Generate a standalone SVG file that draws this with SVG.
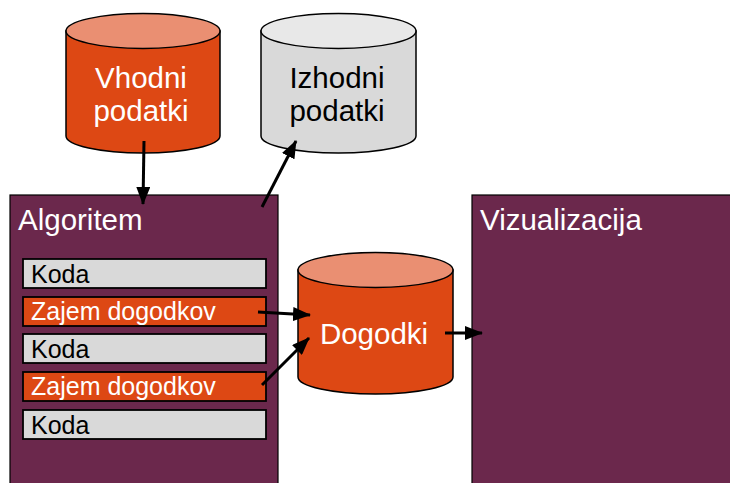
<svg xmlns="http://www.w3.org/2000/svg" width="730" height="483" viewBox="0 0 730 483">
<defs>
<style>
.big{font-family:"Liberation Sans",Arial,sans-serif;font-size:29.5px}
.small{font-family:"Liberation Sans",Arial,sans-serif;font-size:25px}
.w{fill:#ffffff}
.k{fill:#000000}
.panel{fill:#6B284C;stroke:#000;stroke-width:1.2}
.gray{fill:#D9D9D9;stroke:#000;stroke-width:1.8}
.orange{fill:#DD4814;stroke:#000;stroke-width:1.8}
.cylO{fill:#DD4814;stroke:#000;stroke-width:1.5}
.cylOt{fill:#EA8F72;stroke:#000;stroke-width:1.5}
.cylG{fill:#D9D9D9;stroke:#000;stroke-width:1.5}
.cylGt{fill:#E8E8E8;stroke:#000;stroke-width:1.5}
.edge{stroke:#000;stroke-width:3;fill:none;marker-end:url(#ah)}
</style>
<marker id="ah" viewBox="0 0 18 14" refX="17" refY="7" markerWidth="18" markerHeight="14" orient="auto" markerUnits="userSpaceOnUse">
<path d="M0,0 L18,7 L0,14 Z" fill="#000"/>
</marker>
</defs>
<rect width="730" height="483" fill="#fff"/>
<g id="vhodni">
<path class="cylO" d="M66,31 L66,136 A77,17 0 0 0 220,136 L220,31 Z"/>
<ellipse class="cylOt" cx="143" cy="31" rx="77" ry="17.5"/>
<text class="big w" x="141" y="88" text-anchor="middle">Vhodni</text>
<text class="big w" x="141" y="121" text-anchor="middle">podatki</text>
</g>
<g id="izhodni">
<path class="cylG" d="M261,31 L261,136 A77.5,17 0 0 0 416,136 L416,31 Z"/>
<ellipse class="cylGt" cx="338.5" cy="31" rx="77.5" ry="17.5"/>
<text class="big k" x="337" y="88" text-anchor="middle">Izhodni</text>
<text class="big k" x="337" y="121" text-anchor="middle">podatki</text>
</g>
<g id="algoritem">
<rect class="panel" x="10" y="195" width="268" height="300"/>
<text class="big w" x="18" y="230">Algoritem</text>
</g>
<g id="koda1">
<rect class="gray" x="23" y="259" width="243" height="29"/>
<text class="small k" x="31" y="282.5">Koda</text>
</g>
<g id="zajem1">
<rect class="orange" x="23" y="297" width="243" height="29"/>
<text class="small w" x="31" y="320">Zajem dogodkov</text>
</g>
<g id="koda2">
<rect class="gray" x="23" y="334" width="243" height="29"/>
<text class="small k" x="31" y="357.5">Koda</text>
</g>
<g id="zajem2">
<rect class="orange" x="23" y="372" width="243" height="29"/>
<text class="small w" x="31" y="395">Zajem dogodkov</text>
</g>
<g id="koda3">
<rect class="gray" x="23" y="410" width="243" height="29"/>
<text class="small k" x="31" y="433.5">Koda</text>
</g>
<g id="dogodki">
<path class="cylO" d="M298,270 L298,377 A77.5,17 0 0 0 453,377 L453,270 Z"/>
<ellipse class="cylOt" cx="375.5" cy="270" rx="77.5" ry="17.5"/>
<text class="big w" x="374" y="344" text-anchor="middle">Dogodki</text>
</g>
<g id="vizualizacija">
<rect class="panel" x="472" y="195" width="270" height="300"/>
<text class="big w" x="480" y="230">Vizualizacija</text>
</g>
<g id="connectors">
<line class="edge" x1="144" y1="141" x2="143" y2="204"/>
<line class="edge" x1="262" y1="207" x2="296" y2="141"/>
<line class="edge" x1="258" y1="312" x2="310" y2="315"/>
<line class="edge" x1="262" y1="385" x2="309" y2="338"/>
<line class="edge" x1="445" y1="333" x2="482" y2="333"/>
</g>
</svg>
